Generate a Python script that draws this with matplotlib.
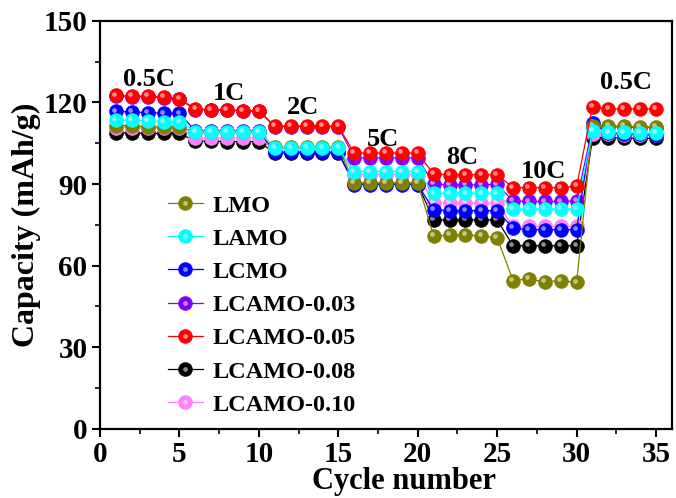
import numpy as np
import matplotlib.pyplot as plt
from matplotlib.transforms import offset_copy
from matplotlib.legend_handler import HandlerTuple

plt.rcParams['font.family'] = ['Liberation Serif', 'DejaVu Serif']
plt.rcParams['font.weight'] = 'bold'

# Ciclos y capacidades de descarga (mAh/g) para cada muestra
cycles = np.arange(1, 36)

lmo = [111.5, 111.5, 111.0, 111.0, 111.0,
       109.0, 109.0, 109.0, 109.0, 109.0,
       103.5, 103.5, 103.5, 103.5, 103.5,
       90.5, 90.5, 90.5, 90.5, 90.5,
       70.8, 71.2, 71.2, 71.0, 70.2,
       54.5, 55.2, 54.0, 54.5, 53.8,
       111.3, 111.3, 111.3, 111.0, 111.0]
lamo = [113.5, 113.5, 113.3, 113.0, 113.0,
        109.3, 109.3, 109.3, 109.3, 109.3,
        103.2, 103.2, 103.2, 103.2, 103.2,
        94.6, 94.6, 94.6, 94.6, 94.6,
        86.6, 86.6, 86.6, 86.6, 86.6,
        80.8, 80.8, 80.8, 80.8, 80.8,
        109.5, 109.0, 109.0, 108.8, 108.8]
lcmo = [116.7, 116.5, 116.3, 116.0, 116.0,
        109.5, 109.5, 109.5, 109.5, 109.5,
        101.8, 101.8, 101.8, 101.8, 101.8,
        89.8, 89.8, 89.8, 89.8, 89.8,
        80.5, 80.2, 80.2, 80.2, 80.2,
        73.8, 73.2, 73.2, 73.2, 73.2,
        112.5, 108.8, 108.5, 108.3, 108.0]
lcamo_003 = [122.4, 122.1, 122.1, 121.8, 121.2,
             117.4, 117.2, 117.2, 116.8, 116.8,
             111.1, 111.1, 111.1, 111.1, 111.1,
             99.6, 99.6, 99.6, 99.6, 99.6,
             90.0, 89.7, 89.7, 89.7, 89.9,
             83.8, 83.6, 83.6, 83.6, 83.8,
             111.0, 111.0, 111.0, 110.8, 110.8]
lcamo_005 = [122.6, 122.3, 122.3, 122.0, 121.4,
             117.6, 117.4, 117.4, 117.0, 117.0,
             111.3, 111.3, 111.3, 111.3, 111.3,
             101.4, 101.4, 101.4, 101.4, 101.4,
             93.6, 93.4, 93.4, 93.4, 93.4,
             88.7, 88.7, 88.7, 88.7, 89.2,
             118.5, 117.6, 117.6, 117.6, 117.6]
lcamo_008 = [108.8, 108.8, 108.6, 108.6, 108.6,
             105.8, 105.8, 105.6, 105.6, 105.6,
             101.4, 101.4, 101.4, 101.4, 101.4,
             90.0, 90.0, 90.0, 90.0, 90.0,
             76.8, 76.8, 76.8, 76.8, 76.8,
             67.3, 67.3, 67.3, 67.3, 67.3,
             107.0, 107.0, 107.0, 106.8, 106.8]
lcamo_010 = [110.8, 110.8, 110.6, 110.6, 110.6,
             107.0, 107.0, 107.0, 107.0, 107.0,
             102.8, 102.8, 102.8, 102.8, 102.8,
             93.5, 93.5, 93.5, 93.5, 93.5,
             83.0, 83.0, 83.0, 83.0, 83.0,
             74.4, 74.4, 74.4, 74.4, 74.4,
             108.3, 108.3, 108.0, 108.0, 108.0]

series = [
    ('LMO', lmo, '#808000', 5),
    ('LAMO', lamo, '#00FFFF', 6),
    ('LCMO', lcmo, '#0000FF', 4),
    ('LCAMO-0.03', lcamo_003, '#8000FF', 3),
    ('LCAMO-0.05', lcamo_005, '#FF0000', 7),
    ('LCAMO-0.08', lcamo_008, '#000000', 1),
    ('LCAMO-0.10', lcamo_010, '#FF80FF', 2),
]

# Etiquetas de la tasa de carga
rate_labels = ['0.5C', '1C', '2C', '5C', '8C', '10C', '0.5C']
rate_x = [3.1, 8.1, 12.8, 17.8, 22.8, 27.9, 33.1]
rate_y = [128.5, 123.2, 118.2, 106.4, 99.6, 94.8, 127.5]

fig = plt.figure(figsize=(6.76, 4.98), dpi=100)
ax = fig.add_axes([0.148, 0.139, 0.846, 0.819])

# desplazamiento para el brillo de las esferas
hl_trans = offset_copy(ax.transData, fig=fig, x=-1.3, y=1.3, units='points')

handles = []
for name, vals, color, z in series:
    ln, = ax.plot(cycles, vals, '-o', color=color, lw=0.9, ms=10,
                  mec=color, mew=0.4, zorder=z, label=name)
    hl, = ax.plot(cycles, vals, 'o', color='white', ms=3.4, alpha=0.55,
                  mew=0, zorder=z + 0.5, transform=hl_trans)
    handles.append((ln, hl))

for txt, x, y in zip(rate_labels, rate_x, rate_y):
    ax.text(x, y, txt, fontsize=19, fontweight='bold', ha='center', va='center')

ax.set_xlim(0, 36)
ax.set_ylim(0, 150)
ax.set_xticks(np.arange(0, 36, 5))
ax.set_yticks(np.arange(0, 151, 30))
ax.set_xticks(np.arange(2.5, 36, 5), minor=True)
ax.set_yticks(np.arange(15, 150, 30), minor=True)
ax.tick_params(which='major', direction='out', length=6, width=1.5, labelsize=21, pad=3)
ax.tick_params(which='minor', direction='out', length=3.5, width=1.2)
for s in ax.spines.values():
    s.set_linewidth(1.6)

ax.set_xlabel('Cycle number', fontsize=22, fontweight='bold', labelpad=-1, x=0.532)
ax.set_ylabel('Capacity (mAh/g)', fontsize=23, fontweight='bold', labelpad=2)

ax.legend(handles, [s[0] for s in series], handler_map={tuple: HandlerTuple(ndivide=1)},
          loc='upper left', bbox_to_anchor=(0.08, 0.628), frameon=False,
          handlelength=1.45, labelspacing=0.46, handletextpad=0.4,
          prop={'weight': 'bold', 'size': 17.5})

fig.savefig('out.png', dpi=100)
